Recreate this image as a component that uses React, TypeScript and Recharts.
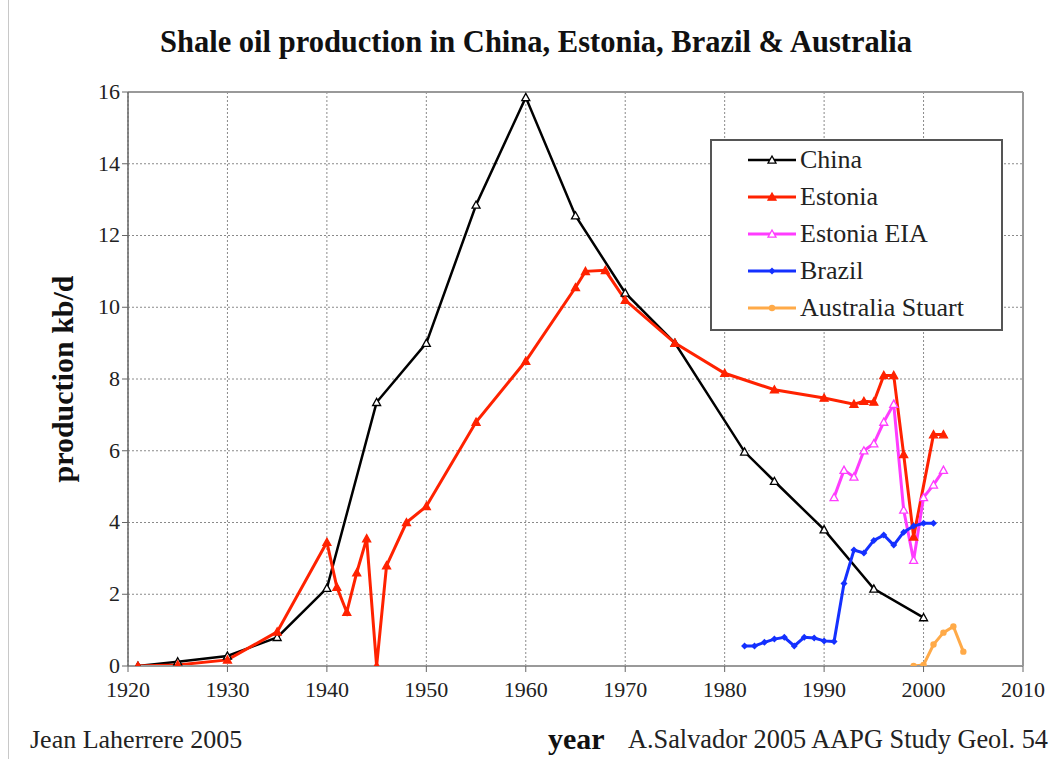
import React from 'react';
import { LineChart, Line, XAxis, YAxis, CartesianGrid, Legend, ReferenceLine } from 'recharts';

// years and kb/d
const chinaYears = [1921, 1925, 1930, 1935, 1940, 1945, 1950, 1955, 1960, 1965, 1970, 1975, 1982, 1985, 1990, 1995, 2000];
const chinaKbd = [0, 0.12, 0.28, 0.8, 2.17, 7.35, 9.0, 12.85, 15.85, 12.55, 10.4, 9.0, 5.97, 5.15, 3.8, 2.15, 1.35];

const estoniaYears = [1921, 1925, 1930, 1935, 1940, 1941, 1942, 1943, 1944, 1945, 1946, 1948, 1950, 1955, 1960, 1965, 1966, 1968, 1970, 1975, 1980, 1985, 1990, 1993, 1994, 1995, 1996, 1997, 1998, 1999, 2001, 2002];
const estoniaKbd = [0, 0.03, 0.17, 0.95, 3.45, 2.2, 1.5, 2.6, 3.55, 0, 2.8, 4.0, 4.45, 6.8, 8.5, 10.55, 11.0, 11.03, 10.2, 9.0, 8.16, 7.7, 7.47, 7.3, 7.38, 7.36, 8.1, 8.1, 5.9, 3.6, 6.45, 6.45];

const eiaYears = [1991, 1992, 1993, 1994, 1995, 1996, 1997, 1998, 1999, 2000, 2001, 2002];
const eiaKbd = [4.7, 5.46, 5.27, 6.0, 6.2, 6.8, 7.3, 4.35, 2.95, 4.7, 5.05, 5.46];

const brazilYears = [1982, 1983, 1984, 1985, 1986, 1987, 1988, 1989, 1990, 1991, 1992, 1993, 1994, 1995, 1996, 1997, 1998, 1999, 2000, 2001];
const brazilKbd = [0.56, 0.56, 0.66, 0.75, 0.8, 0.56, 0.8, 0.78, 0.7, 0.68, 2.3, 3.23, 3.15, 3.5, 3.65, 3.37, 3.73, 3.9, 3.98, 3.98];

const australiaYears = [1999, 2000, 2001, 2002, 2003, 2004];
const australiaKbd = [0, 0.03, 0.6, 0.93, 1.1, 0.4];

const yearTicks = [1920, 1930, 1940, 1950, 1960, 1970, 1980, 1990, 2000, 2010];
const kbdTicks = [0, 2, 4, 6, 8, 10, 12, 14, 16];

const pairs = (xs: number[], ys: number[]) => xs.map((year, i) => ({ year, value: ys[i] }));

const FONT = "'Liberation Serif', 'Times New Roman', serif";

type Shape = 'openTri' | 'tri' | 'diamond' | 'circle';

const marker = (shape: Shape, color: string, cx: number, cy: number, key?: string) => {
  if (shape === 'openTri' || shape === 'tri') {
    const s = 4;
    return (
      <path key={key} d={`M${cx},${cy - s} L${cx + s},${cy + s * 0.8} L${cx - s},${cy + s * 0.8} Z`}
        fill={shape === 'tri' ? color : '#fff'} stroke={color} strokeWidth={1.3} />
    );
  }
  if (shape === 'diamond') {
    const s = 3.5;
    return <path key={key} d={`M${cx},${cy - s} L${cx + s},${cy} L${cx},${cy + s} L${cx - s},${cy} Z`} fill={color} />;
  }
  return <circle key={key} cx={cx} cy={cy} r={3.2} fill={color} />;
};

const series = [
  { name: 'China', color: '#000000', shape: 'openTri' as Shape, width: 2.5, data: pairs(chinaYears, chinaKbd) },
  { name: 'Estonia', color: '#ff2200', shape: 'tri' as Shape, width: 3, data: pairs(estoniaYears, estoniaKbd) },
  { name: 'Estonia EIA', color: '#ff3cff', shape: 'openTri' as Shape, width: 3, data: pairs(eiaYears, eiaKbd) },
  { name: 'Brazil', color: '#1430ff', shape: 'diamond' as Shape, width: 3, data: pairs(brazilYears, brazilKbd) },
  { name: 'Australia Stuart', color: '#ffaa48', shape: 'circle' as Shape, width: 3, data: pairs(australiaYears, australiaKbd) },
];

const LegendBox = () => (
  <div style={{ border: '2px solid #555', background: '#fff', width: 289, height: 187, boxSizing: 'content-box', paddingTop: 1 }}>
    {series.map((s) => (
      <div key={s.name} style={{ display: 'flex', alignItems: 'center', height: 36.8, fontFamily: FONT, fontSize: 26, color: '#222' }}>
        <svg width={86} height={20} style={{ flex: 'none' }}>
          <line x1={36} y1={10} x2={84} y2={10} stroke={s.color} strokeWidth={s.width} />
          {marker(s.shape, s.color, 60, 10)}
        </svg>
        <span style={{ marginLeft: 2 }}>{s.name}</span>
      </div>
    ))}
  </div>
);

export default function App() {
  return (
    <div style={{ position: 'absolute', left: 0, top: 0, width: 1056, height: 759, background: '#fff', fontFamily: FONT }}>
      <div style={{ position: 'absolute', left: 8, top: 0, width: 1, height: 759, background: '#c8c8c8' }} />
      <div style={{ position: 'absolute', left: 0, width: 1072, top: 25, textAlign: 'center', fontSize: 30.5, fontWeight: 'bold', color: '#111' }}>
        Shale oil production in China, Estonia, Brazil &amp; Australia
      </div>
      <LineChart width={1056} height={759} margin={{ top: 92, right: 33, left: 68, bottom: 53 }}>
        <CartesianGrid stroke="#8a8a8a" strokeDasharray="2 2" />
        <XAxis type="number" dataKey="year" domain={[1920, 2010]} ticks={yearTicks} height={40} allowDataOverflow
          axisLine={{ stroke: '#999', strokeWidth: 2 }} tickLine={{ stroke: '#666' }} tickSize={6}
          tick={{ fill: '#222', fontSize: 22, fontFamily: FONT, dy: 7 }} />
        <YAxis type="number" domain={[0, 16]} ticks={kbdTicks} width={60} allowDataOverflow
          axisLine={{ stroke: '#666', strokeWidth: 1.5 }} tickLine={{ stroke: '#666' }} tickSize={6}
          tick={{ fill: '#222', fontSize: 22, fontFamily: FONT, dy: -1 }} />
        <ReferenceLine y={16} stroke="#999" strokeWidth={2} />
        <ReferenceLine x={2010} stroke="#999" strokeWidth={2} />
        {series.map((s) => (
          <Line key={s.name} data={s.data} dataKey="value" name={s.name} stroke={s.color} strokeWidth={s.width}
            isAnimationActive={false}
            dot={(p: any) => marker(s.shape, s.color, p.cx, p.cy, `${s.name}-${p.index}`)}
            activeDot={false} />
        ))}
        <Legend content={() => <LegendBox />} layout="horizontal" align="center" verticalAlign="middle"
          wrapperStyle={{ left: 710, top: 139, width: 293, height: 191 }} />
      </LineChart>
      <div style={{ position: 'absolute', left: 63, top: 379, transform: 'translate(-50%, -50%) rotate(-90deg)', whiteSpace: 'nowrap', fontSize: 30, fontWeight: 'bold', color: '#111' }}>
        production kb/d
      </div>
      <div style={{ position: 'absolute', left: 30, top: 725, fontSize: 26, color: '#222' }}>Jean Laherrere 2005</div>
      <div style={{ position: 'absolute', left: 548, top: 722, fontSize: 30, fontWeight: 'bold', color: '#111' }}>year</div>
      <div style={{ position: 'absolute', left: 628, top: 725, fontSize: 26.3, color: '#222', whiteSpace: 'nowrap' }}>A.Salvador 2005 AAPG Study Geol. 54</div>
    </div>
  );
}
